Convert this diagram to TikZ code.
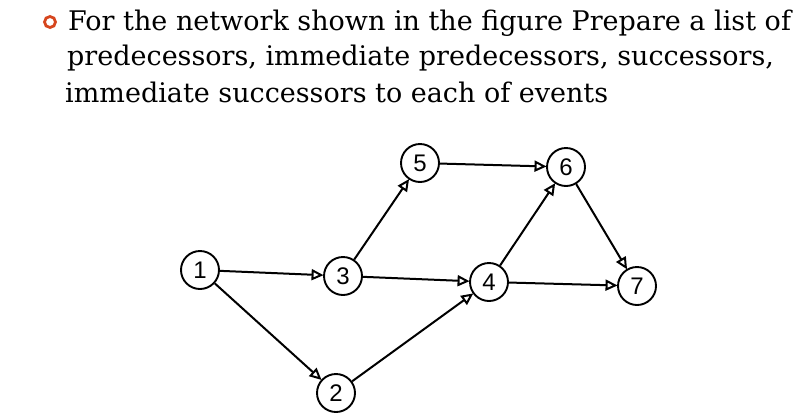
\documentclass[tikz,border=0pt]{standalone}
\usepackage{fontspec}
\usetikzlibrary{arrows.meta}
\newfontfamily\qfont{DejaVu Serif}
\newfontfamily\evfont{Liberation Sans}
\definecolor{bulletred}{RGB}{214,70,30}
\tikzset{
    event/.style={draw, circle, line width=1.9pt, minimum size=38pt, inner sep=0pt,
        font=\evfont\fontsize{24}{24}\selectfont},
    act/.style={line width=2pt, -{Triangle[open, length=12pt, width=11pt]}, shorten >=-0.5pt},
    qline/.style={anchor=base west, inner sep=0pt, font=\qfont\fontsize{27}{30}\selectfont}
}
\begin{document}
\begin{tikzpicture}[x=1pt, y=-1pt]
                    \useasboundingbox (0,0) rectangle (800,418);
                    \draw[bulletred, line width=2.8pt] (50,22) circle (5.5);
                    \node[qline] (q1) at (68,30) {For the network shown in the figure Prepare a list of};
                    \node[qline] (q2) at (67,65) {predecessors, immediate predecessors, successors,};
                    \node[qline] (q3) at (65,102) {immediate successors to each of events};

                    \node[event] (e1) at (200,270) {1};
                    \node[event] (e3) at (343,276) {3};
                    \node[event] (e2) at (336,393) {2};
                    \node[event] (e5) at (420,163) {5};
                    \node[event] (e6) at (566,167) {6};
                    \node[event] (e4) at (489,282) {4};
                    \node[event] (e7) at (637,286) {7};

                    \draw[act] (e1) -- (e3);
                    \draw[act] (e1) -- (e2);
                    \draw[act] (e3) -- (e5);
                    \draw[act] (e3) -- (e4);
                    \draw[act] (e2) -- (e4);
                    \draw[act] (e5) -- (e6);
                    \draw[act] (e4) -- (e6);
                    \draw[act] (e6) -- (e7);
                    \draw[act] (e4) -- (e7);
                \end{tikzpicture}
\end{document}
